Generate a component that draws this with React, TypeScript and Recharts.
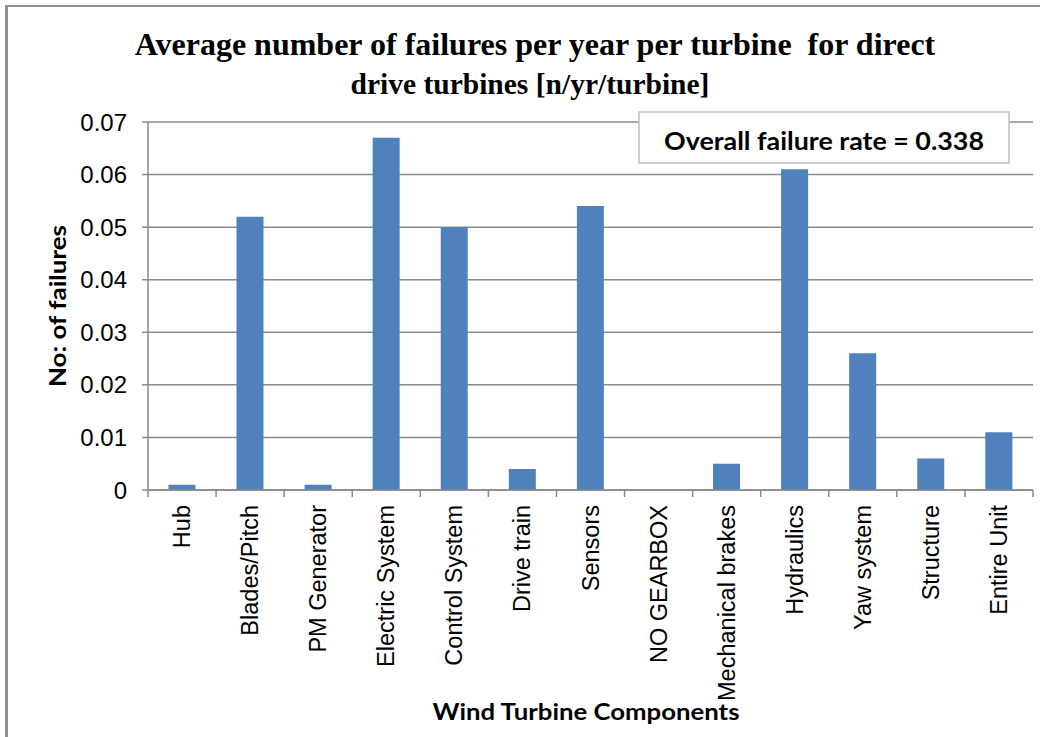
import React from 'react';
import { BarChart, Bar, XAxis, YAxis, CartesianGrid, Customized } from 'recharts';

const categories = [
  'Hub',
  'Blades/Pitch',
  'PM Generator',
  'Electric System',
  'Control System',
  'Drive train',
  'Sensors',
  'NO GEARBOX',
  'Mechanical brakes',
  'Hydraulics',
  'Yaw system',
  'Structure',
  'Entire Unit',
];
const failures = [0.001, 0.052, 0.001, 0.067, 0.05, 0.004, 0.054, 0, 0.005, 0.061, 0.026, 0.006, 0.011];
const yTicks = [0, 0.01, 0.02, 0.03, 0.04, 0.05, 0.06, 0.07];
const titleLines = ['Average number of failures per year per turbine  for direct', 'drive turbines [n/yr/turbine]'];
const yAxisTitle = 'No: of failures';
const xAxisTitle = 'Wind Turbine Components';
const overallText = 'Overall failure rate = 0.338';

const data = categories.map((c, i) => ({ name: c, value: failures[i] }));

const W = 1049;
const H = 737;
const M = { top: 122, right: 16, bottom: 207, left: 0 };
const Y_W = 148;
const X_H = 40;
const PLOT_W = W - M.left - M.right - Y_W;
const BAND = PLOT_W / categories.length;
const AXIS_COLOR = '#8a8a8a';
const BAR_COLOR = '#4F81BD';
const TICK_FONT = 'Liberation Sans, Arial, sans-serif';
const LABEL_FONT = 'Lato, Calibri, sans-serif';
const TITLE_FONT = 'Liberation Serif, Times New Roman, serif';

const XTick = (props: any) => {
  const { x, y, payload, index } = props;
  const axisY = y - 15;
  return (
    <g>
      <line x1={x - BAND / 2} x2={x - BAND / 2} y1={axisY} y2={axisY + 7} stroke={AXIS_COLOR} strokeWidth={1.5} />
      {index === categories.length - 1 && (
        <line x1={x + BAND / 2} x2={x + BAND / 2} y1={axisY} y2={axisY + 7} stroke={AXIS_COLOR} strokeWidth={1.5} />
      )}
      <text
        x={x}
        y={y}
        transform={`rotate(-90, ${x}, ${y})`}
        textAnchor="end"
        dominantBaseline="central"
        fontFamily={TICK_FONT}
        fontSize={23.5}
        fill="#000"
      >
        {payload.value}
      </text>
    </g>
  );
};

const Decor = () => (
  <g>
    <line x1={5} x2={1040} y1={6} y2={6} stroke="#8f8f8f" strokeWidth={2} />
    <line x1={6.5} x2={6.5} y1={5} y2={H} stroke="#8f8f8f" strokeWidth={3} />
    <text
      x={535}
      y={55}
      textAnchor="middle"
      fontFamily={TITLE_FONT}
      fontWeight="bold"
      fontSize={32}
      fill="#000"
      style={{ whiteSpace: 'pre' }}
    >
      {titleLines[0]}
    </text>
    <text x={530} y={94} textAnchor="middle" fontFamily={TITLE_FONT} fontWeight="bold" fontSize={29.5} fill="#000">
      {titleLines[1]}
    </text>
    <text
      x={66}
      y={306}
      transform="rotate(-90, 66, 306)"
      textAnchor="middle"
      fontFamily={LABEL_FONT}
      fontWeight="bold"
      fontSize={22.5}
      textLength={162}
      lengthAdjust="spacingAndGlyphs"
      fill="#000"
    >
      {yAxisTitle}
    </text>
    <text
      x={586}
      y={720}
      textAnchor="middle"
      fontFamily={LABEL_FONT}
      fontWeight="bold"
      fontSize={22}
      textLength={307}
      lengthAdjust="spacingAndGlyphs"
      fill="#000"
    >
      {xAxisTitle}
    </text>
    <rect x={639} y={112} width={370} height={51} fill="#fff" stroke="#bfbfbf" strokeWidth={1.5} />
    <text
      x={824}
      y={150}
      textAnchor="middle"
      fontFamily={LABEL_FONT}
      fontWeight="bold"
      fontSize={25}
      textLength={320}
      lengthAdjust="spacingAndGlyphs"
      fill="#000"
    >
      {overallText}
    </text>
  </g>
);

export default function App() {
  return (
    <div style={{ position: 'absolute', left: 0, top: 0, width: W, height: H, background: '#fff' }}>
      <BarChart width={W} height={H} data={data} margin={M} barCategoryGap="30%">
        <CartesianGrid horizontal vertical={false} stroke={AXIS_COLOR} strokeWidth={1.5} />
        <XAxis
          dataKey="name"
          height={X_H}
          interval={0}
          tickLine={false}
          axisLine={{ stroke: AXIS_COLOR, strokeWidth: 1.5 }}
          tickSize={6}
          tickMargin={9}
          tick={<XTick />}
        />
        <YAxis
          width={Y_W}
          domain={[0, 0.07]}
          ticks={yTicks}
          interval={0}
          tickSize={6}
          tickMargin={15}
          tickLine={{ stroke: AXIS_COLOR, strokeWidth: 1.5 }}
          axisLine={{ stroke: AXIS_COLOR, strokeWidth: 1.5 }}
          tickFormatter={(v: number) => (v === 0 ? '0' : v.toFixed(2))}
          tick={{ fontFamily: TICK_FONT, fontSize: 24, fill: '#000' }}
        />
        <Bar dataKey="value" fill={BAR_COLOR} isAnimationActive={false} />
        <Customized component={Decor} />
      </BarChart>
    </div>
  );
}
